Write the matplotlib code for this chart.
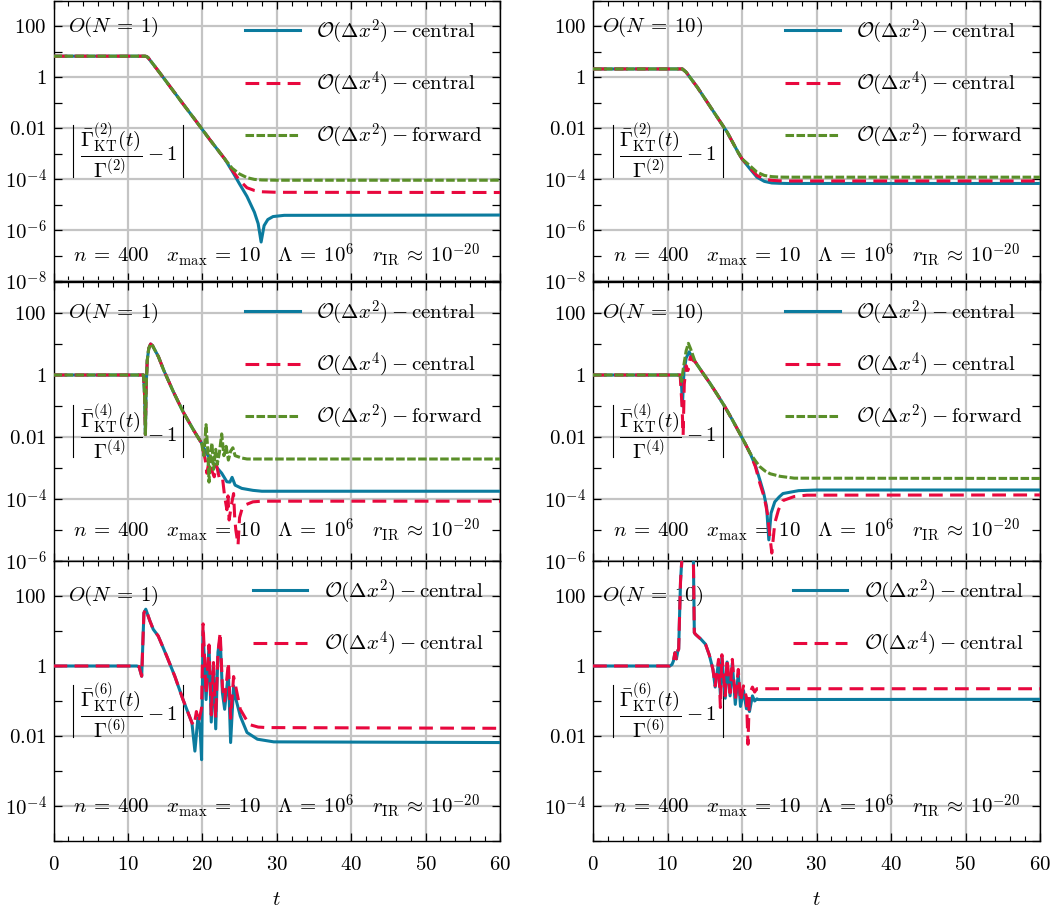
import matplotlib.pyplot as plt

plt.rcParams.update({
    "font.family": "serif",
    "font.serif": ["cmr10"],
    "mathtext.fontset": "cm",
    "axes.formatter.use_mathtext": True,
    "font.size": 15,
    "axes.linewidth": 1.0,
})

BLUE = "#0b7b9e"
RED = "#e8083e"
GREEN = "#5a8f29"

# ---- row 1, O(N=1), Gamma^(2) ----
A_BLUE_T = [0, 12.3, 12.5, 12.7, 13.5, 15, 17, 19, 21, 23,
            24, 25, 26, 27, 27.5, 27.9, 28.3, 28.8, 29.5, 31, 60]
A_BLUE = [6.8, 6.8, 6.6, 6.0, 3.0, 0.79, 0.13, 0.022, 3.6e-3, 6.3e-4,
          2.1e-4, 6.5e-5, 2.1e-5, 5e-6, 1.8e-6, 3.4e-7, 1.5e-6, 2.6e-6, 3.4e-6, 3.8e-6, 3.9e-6]
A_RED_T = [0, 12.3, 12.5, 12.7, 13.5, 15, 17, 19, 21, 23, 24, 25, 26, 27, 28, 30, 60]
A_RED = [6.8, 6.8, 6.6, 6.0, 3.0, 0.79, 0.13, 0.022, 3.6e-3, 6.3e-4,
         2.3e-4, 9e-5, 4.6e-5, 3.6e-5, 3.2e-5, 3.05e-5, 3.0e-5]
A_GREEN_T = [0, 12.3, 12.5, 12.7, 13.5, 15, 17, 19, 21, 23, 24, 25, 26, 27, 28, 30, 60]
A_GREEN = [6.8, 6.8, 6.6, 6.0, 3.0, 0.79, 0.13, 0.022, 3.6e-3, 6.3e-4,
           2.7e-4, 1.6e-4, 1.15e-4, 9.8e-5, 9.3e-5, 9.1e-5, 9.1e-5]

# ---- row 1, O(N=10), Gamma^(2) ----
B_T = [0, 12.0, 12.5, 14, 16, 18, 19.5, 20, 21, 22, 23, 24, 25, 26, 60]
B_BLUE = [2.14, 2.14, 1.6, 0.41, 0.054, 7.1e-3, 1.1e-3, 6.3e-4,
          2.7e-4, 1.2e-4, 8.2e-5, 7.1e-5, 6.9e-5, 6.8e-5, 6.8e-5]
B_RED = [2.14, 2.14, 1.6, 0.41, 0.054, 7.1e-3, 1.1e-3, 6.3e-4,
         2.9e-4, 1.4e-4, 1.0e-4, 9.0e-5, 8.6e-5, 8.5e-5, 8.5e-5]
B_GREEN = [2.14, 2.14, 1.6, 0.41, 0.054, 7.1e-3, 1.1e-3, 6.3e-4,
           3.5e-4, 1.9e-4, 1.4e-4, 1.26e-4, 1.21e-4, 1.2e-4, 1.2e-4]

# ---- row 2, O(N=1), Gamma^(4) ----
C_HEAD_T = [0, 12.1, 12.25, 12.35, 12.45, 12.6, 12.8, 13.05, 13.3, 14.1, 14.8, 16.1, 17.4, 18.8, 19.9]
C_HEAD = [1, 1, 0.2, 0.012, 0.42, 3.0, 7.2, 10, 8.9, 3.9, 1.45, 0.29, 0.066, 0.017, 6.3e-3]
C_GREEN_T = [20.2, 20.5, 20.7, 20.9, 21.1, 21.3, 21.5, 21.8, 22.0, 22.3, 22.6, 22.9,
             23.2, 23.5, 23.8, 24.1, 24.4, 25.3, 26, 60]
C_GREEN = [2.5e-3, 0.025, 5e-3, 3.5e-4, 3.2e-3, 6.3e-3, 9e-4, 4e-3, 1.3e-3, 3.2e-3, 0.0126, 2.5e-3,
           5e-3, 1.8e-3, 3.5e-3, 4.5e-3, 2.5e-3, 2.1e-3, 1.95e-3, 1.95e-3]
C_BLUE_T = [20.5, 21.0, 21.5, 22.0, 22.6, 23.3, 23.7, 24.0, 24.4, 25.3, 26.8, 28, 60]
C_BLUE = [3.2e-3, 2.0e-3, 1.4e-3, 1.0e-3, 6.8e-4, 3.6e-4, 3.5e-4, 5.0e-4, 2.8e-4, 2.2e-4,
          1.9e-4, 1.78e-4, 1.78e-4]
C_RED_T = [20.4, 20.6, 20.9, 21.3, 21.6, 21.9, 22.3, 22.7, 23.0, 23.3, 23.45, 23.6, 23.9,
           24.2, 24.35, 24.5, 24.8, 25.0, 25.3, 25.8, 26.8, 28, 60]
C_RED = [1.8e-3, 6.8e-4, 1.6e-3, 8e-4, 5.2e-4, 1.26e-3, 4.5e-4, 5e-4, 1.2e-4, 4.5e-5, 1.26e-4,
         2.1e-5, 6.3e-5, 1.5e-4, 2.5e-5, 1e-5, 3.3e-6, 2.5e-5, 4.5e-5, 6.5e-5, 8.1e-5, 8.5e-5, 8.5e-5]

# ---- row 2, O(N=10), Gamma^(4) ----
D_GREEN_T = [0, 11.7, 11.9, 12.1, 12.5, 12.8, 13.1, 13.7, 14.7, 15.7, 16.7, 17.7, 18.7, 19.7,
             20.4, 21.1, 21.8, 22.4, 23.1, 23.8, 25.1, 27, 60]
D_GREEN = [1, 1, 0.62, 1.5, 6, 10.5, 7, 2.7, 1.2, 0.54, 0.23, 0.095, 0.036, 0.013,
           6.3e-3, 2.95e-3, 1.7e-3, 1.1e-3, 8e-4, 6.5e-4, 5.4e-4, 4.7e-4, 4.6e-4]
D_BLUE_T = [0, 11.7, 11.9, 12.0, 12.2, 12.5, 12.9, 13.2, 13.7, 14.7, 15.7, 16.7, 17.7, 18.7, 19.7,
            20.4, 21.1, 21.8, 22.4, 22.9, 23.3, 23.6, 23.9, 24.4, 25.0, 25.5, 27.6, 30, 60]
D_BLUE = [1, 1, 0.4, 0.1, 1.2, 3.5, 5.6, 4.2, 2.7, 1.2, 0.54, 0.23, 0.095, 0.036, 0.013,
          6.3e-3, 2.95e-3, 1.2e-3, 4.1e-4, 1.6e-4, 5.6e-5, 4.8e-6, 3.5e-5, 8.1e-5, 1.17e-4,
          1.5e-4, 1.86e-4, 1.95e-4, 1.95e-4]
D_RED_T = [0, 11.7, 11.95, 12.1, 12.25, 12.5, 12.75, 12.9, 13.1, 13.4, 13.7, 14.7, 15.7, 16.7,
           17.7, 18.7, 19.7, 20.4, 21.1, 21.8, 22.4, 23.0, 23.4, 24.0, 24.4, 24.9, 25.5, 27, 28.7, 60]
D_RED = [1, 1, 0.1, 0.0115, 0.5, 2.0, 1.4, 2.5, 3.9, 3.0, 2.7, 1.2, 0.54, 0.23,
         0.095, 0.036, 0.013, 6.3e-3, 2.95e-3, 1.1e-3, 3.2e-4, 1.1e-4, 3.5e-5, 1.8e-6, 1.66e-5,
         4.5e-5, 8.9e-5, 1.2e-4, 1.33e-4, 1.35e-4]

# ---- row 3, O(N=1), Gamma^(6) ----
E_HEAD_T = [0, 11.2, 11.5, 11.85, 12.15, 12.4, 12.95, 13.4, 14.07, 15.2, 16.3, 17.4, 18.6]
E_HEAD = [1, 1, 0.95, 0.51, 33, 42, 19.5, 11.2, 7.2, 1.95, 0.51, 0.11, 0.024]
E_BLUE_T = [19.0, 19.4, 19.7, 19.9, 20.1, 20.5, 20.9, 21.2, 21.5, 21.8, 22.1, 22.4, 22.7, 23.0,
            23.5, 23.8, 24.2, 24.4, 25.1, 26.0, 27.4, 29.6, 60]
E_BLUE = [3.7e-3, 0.032, 0.016, 2.1e-3, 10, 0.11, 3.7, 0.025, 1.0, 0.016, 2.5, 6.3, 0.17, 0.058,
          0.66, 6.5e-3, 0.27, 0.14, 0.037, 0.0126, 8.1e-3, 6.8e-3, 6.5e-3]
E_RED_T = [18.9, 19.2, 19.5, 19.9, 20.1, 20.5, 20.9, 21.2, 21.5, 21.8, 22.1, 22.4, 22.7, 23.0,
           23.5, 23.8, 24.2, 24.5, 25.1, 25.8, 26.4, 27.5, 28.6, 60]
E_RED = [0.02, 0.05, 0.025, 0.063, 16, 0.16, 4.0, 0.04, 1.26, 0.032, 2.5, 9.1, 0.25, 0.1,
         1.26, 0.032, 0.5, 0.25, 0.058, 0.032, 0.021, 0.018, 0.0174, 0.0166]

# ---- row 3, O(N=10), Gamma^(6) ----
F_HEAD_T = [0, 10.3, 10.6, 10.8, 11.0, 11.2, 11.4, 11.5, 11.6, 11.75, 12.0, 12.5, 13.0,
            13.45, 13.6, 13.8, 14.5, 15.1, 15.6, 16.1]
F_HEAD = [1, 1, 1.1, 1.4, 2.4, 1.6, 2.8, 3.0, 19.5, 270, 2000, 1e4, 1e4,
          3000, 8.9, 7.9, 5.8, 4.2, 2.1, 0.8]
F_TAIL_T = [16.4, 16.85, 17.1, 17.3, 17.75, 18.0, 18.4, 18.7, 19.1, 19.5, 19.8, 20.2, 20.6,
            20.8, 21.0, 21.4, 21.7, 22.0, 22.2, 60]
F_RED = [0.27, 1.55, 0.065, 2.1, 0.14, 1.6, 0.17, 1.55, 0.11, 0.8, 0.1, 0.27, 0.126,
         5.8e-3, 0.16, 0.25, 0.18, 0.224, 0.224, 0.224]
F_BLUE = [0.25, 1.3, 0.15, 1.8, 0.12, 1.3, 0.14, 1.2, 0.08, 0.6, 0.07, 0.2, 0.06,
          0.09, 0.05, 0.14, 0.1, 0.115, 0.11, 0.112]

LBL_C2 = r"$\mathcal{O}(\Delta x^2) - \mathrm{central}$"
LBL_C4 = r"$\mathcal{O}(\Delta x^4) - \mathrm{central}$"
LBL_F2 = r"$\mathcal{O}(\Delta x^2) - \mathrm{forward}$"
INFO = (r"$n\:=\:400 \quad x_{\max}\:=\:10 \quad \Lambda\:=\:10^6"
        r" \quad r_{\mathrm{IR}}\:\approx\:10^{-20}$")

YLABELS = {1e-8: r"$10^{-8}$", 1e-6: r"$10^{-6}$", 1e-4: r"$10^{-4}$",
           1e-2: r"$0.01$", 1: r"$1$", 1e2: r"$100$"}


def ratio_label(k):
    return r"$\dfrac{\bar{\Gamma}^{(%d)}_{\mathrm{KT}}(t)}{\Gamma^{(%d)}} - 1$" % (k, k)


def style_axes(ax, ymin, bottom):
    ax.set_yscale("log")
    ax.set_xlim(0, 60)
    ax.set_ylim(ymin, 1e3)
    major = [v for v in YLABELS if ymin <= v <= 1e3]
    ax.set_yticks(major, [YLABELS[v] for v in major])
    minor = [10.0 ** e for e in range(-9, 4, 2) if ymin <= 10.0 ** e <= 1e3]
    ax.set_yticks(minor, minor=True)
    ax.set_yticklabels([], minor=True)
    ax.set_xticks(range(0, 61, 10))
    ax.set_xticks(range(0, 61, 2), minor=True)
    if bottom:
        ax.set_xticklabels([r"$%d$" % v for v in range(0, 61, 10)])
        ax.set_xlabel(r"$t$", labelpad=12)
    else:
        ax.set_xticklabels([])
    ax.tick_params(which="both", direction="in", top=True, right=True)
    ax.tick_params(which="major", length=6, width=0.9)
    ax.tick_params(which="minor", length=3.5, width=0.8)
    ax.tick_params(axis="y", which="minor", length=6, width=0.9)
    ax.tick_params(axis="x", pad=11)
    ax.tick_params(axis="y", pad=5)
    ax.grid(True, which="major", color="#c4c4c4", linewidth=1.6)
    ax.set_axisbelow(True)


def decorate(ax, ymin, n_label, k):
    ax.text(8, 100, r"$O(N\:=\:%d)$" % n_label, ha="center", va="center", zorder=1)
    ax.text(0.168, 0.463, ratio_label(k), transform=ax.transAxes,
            ha="center", va="center", zorder=1)
    # thin absolute-value bars around the ratio
    for xb in (0.0437, 0.29):
        ax.plot([xb, xb], [0.372, 0.558], transform=ax.transAxes,
                color="black", lw=0.8, zorder=1)
    ax.text(30, ymin * 10, INFO, ha="center", va="center", zorder=1)
    ax.legend(loc="upper right", frameon=False, handlelength=2.6,
              labelspacing=1.15, handletextpad=0.8, borderaxespad=0.4)


def draw(ax, t, y, kind):
    if kind == "c2":
        ax.plot(t, y, color=BLUE, lw=2.2, label=LBL_C2, zorder=3)
    elif kind == "c4":
        ax.plot(t, y, color=RED, lw=2.2, dashes=(4.5, 2.4), label=LBL_C4, zorder=3)
    else:
        ax.plot(t, y, color=GREEN, lw=2.2, dashes=(2.8, 0.8), label=LBL_F2, zorder=3)


fig = plt.figure(figsize=(10.62, 9.18), dpi=100)
W, H = 1062.0, 918.0
cols = [(53.5 / W, 446.5 / W), (593.0 / W, 447.0 / W)]
rows = [(1 - 281.0 / H, 280.0 / H), (1 - 561.0 / H, 279.0 / H), (1 - 841.0 / H, 280.0 / H)]
axes = [[fig.add_axes([c[0], r[0], c[1], r[1]]) for c in cols] for r in rows]

# row 1
ax = axes[0][0]
draw(ax, A_BLUE_T, A_BLUE, "c2")
draw(ax, A_RED_T, A_RED, "c4")
draw(ax, A_GREEN_T, A_GREEN, "f2")
style_axes(ax, 1e-8, False)
decorate(ax, 1e-8, 1, 2)

ax = axes[0][1]
draw(ax, B_T, B_BLUE, "c2")
draw(ax, B_T, B_RED, "c4")
draw(ax, B_T, B_GREEN, "f2")
style_axes(ax, 1e-8, False)
decorate(ax, 1e-8, 10, 2)

# row 2
ax = axes[1][0]
draw(ax, C_HEAD_T + C_BLUE_T, C_HEAD + C_BLUE, "c2")
draw(ax, C_HEAD_T + C_RED_T, C_HEAD + C_RED, "c4")
draw(ax, C_HEAD_T + C_GREEN_T, C_HEAD + C_GREEN, "f2")
style_axes(ax, 1e-6, False)
decorate(ax, 1e-6, 1, 4)

ax = axes[1][1]
draw(ax, D_BLUE_T, D_BLUE, "c2")
draw(ax, D_RED_T, D_RED, "c4")
draw(ax, D_GREEN_T, D_GREEN, "f2")
style_axes(ax, 1e-6, False)
decorate(ax, 1e-6, 10, 4)

# row 3
ax = axes[2][0]
draw(ax, E_HEAD_T + E_BLUE_T, E_HEAD + E_BLUE, "c2")
draw(ax, E_HEAD_T + E_RED_T, E_HEAD + E_RED, "c4")
style_axes(ax, 1e-5, True)
decorate(ax, 1e-5, 1, 6)

ax = axes[2][1]
draw(ax, F_HEAD_T + F_TAIL_T, F_HEAD + F_BLUE, "c2")
draw(ax, F_HEAD_T + F_TAIL_T, F_HEAD + F_RED, "c4")
style_axes(ax, 1e-5, True)
decorate(ax, 1e-5, 10, 6)

fig.savefig("out.png", dpi=100)
